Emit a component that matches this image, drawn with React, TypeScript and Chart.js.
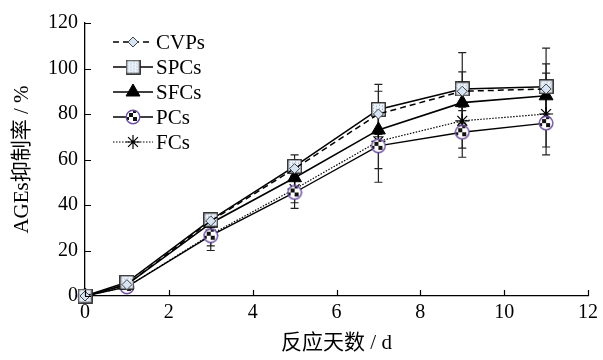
import React, { useEffect, useRef } from "react";
import { Chart, registerables } from "chart.js";
import { drawPoint } from "chart.js/helpers";

Chart.register(...registerables);

const days = [0, 1, 3, 5, 7, 9, 11];
const seriesNames = ["CVPs", "SPCs", "SFCs", "PCs", "FCs"];
const cvps = [0, 5, 33, 56, 80, 90, 91];
const cvpsErr = [0, 1, 2, 4, 10, 8.5, 11];
const spcs = [0, 6, 33.5, 57, 82, 91, 92];
const spcsErr = [0, 1.5, 2.5, 5, 11, 16, 17];
const sfcs = [0, 5, 32, 52, 73, 85, 88];
const sfcsErr = [0, 1, 2, 4, 8, 9, 10];
const pcs = [0, 4, 26.5, 45.5, 66, 72, 76];
const pcsErr = [0, 1, 6.5, 7, 16, 11, 14];
const fcs = [0, 4, 27, 47, 68, 77, 80];
const fcsErr = [0, 1, 5, 6, 12, 12, 14.5];
const xTicks = [0, 2, 4, 6, 8, 10, 12];
const yTicks = [0, 20, 40, 60, 80, 100, 120];
const xTitle = "反应天数 / d";
const yTitle = "AGEs抑制率 / %";

const FONT = "'Liberation Serif', 'Times New Roman', 'Noto Sans CJK SC', serif";

function makeSquare(): HTMLCanvasElement {
  const c = document.createElement("canvas");
  c.width = 15;
  c.height = 15;
  const g = c.getContext("2d")!;
  g.fillStyle = "#eef3f9";
  g.fillRect(1, 1, 13, 13);
  g.fillStyle = "#7f9fcc";
  for (let i = 2; i < 14; i += 3) {
    for (let j = 2 + ((i / 3) % 2); j < 14; j += 3) {
      g.fillRect(i, j, 1, 1);
    }
  }
  g.strokeStyle = "#222";
  g.lineWidth = 1.3;
  g.strokeRect(0.75, 0.75, 13.5, 13.5);
  return c;
}

function makeCircle(): HTMLCanvasElement {
  const c = document.createElement("canvas");
  c.width = 16;
  c.height = 16;
  const g = c.getContext("2d")!;
  g.beginPath();
  g.arc(8, 8, 6.8, 0, Math.PI * 2);
  g.fillStyle = "#ffffff";
  g.fill();
  g.save();
  g.clip();
  g.fillStyle = "#111";
  g.fillRect(4, 4, 4, 4);
  g.fillRect(8, 8, 4, 4);
  g.fillRect(8, 2, 3, 2);
  g.fillRect(2, 8, 2, 3);
  g.restore();
  g.beginPath();
  g.arc(8, 8, 6.8, 0, Math.PI * 2);
  g.strokeStyle = "#6b4f9e";
  g.lineWidth = 1.4;
  g.stroke();
  return c;
}

export default function App() {
  const ref = useRef<HTMLCanvasElement | null>(null);

  useEffect(() => {
    document.body.style.margin = "0";
    const canvas = ref.current;
    if (!canvas) return;
    const square = makeSquare();
    const circle = makeCircle();

    const values = [cvps, spcs, sfcs, pcs, fcs];
    const errs = [cvpsErr, spcsErr, sfcsErr, pcsErr, fcsErr];
    const styles: any[] = [
      { pointStyle: "rectRot", radius: 5, dash: [6, 4], bg: "#d6e4f4", border: "#444", lw: 1.5, pbw: 1 },
      { pointStyle: square, radius: 7, dash: [], bg: "#eef3f9", border: "#111", lw: 1.6, pbw: 1 },
      { pointStyle: "triangle", radius: 8, dash: [], bg: "#000", border: "#000", lw: 1.6, pbw: 1 },
      { pointStyle: circle, radius: 7, dash: [], bg: "#fff", border: "#6b4f9e", lw: 1.4, pbw: 1 },
      { pointStyle: "star", radius: 7, dash: [1.5, 1.5], bg: "#000", border: "#000", lw: 1.2, pbw: 1.2 },
    ];

    const datasets = seriesNames.map((name, i) => ({
      label: name,
      data: days.map((d, k) => ({ x: d, y: values[i][k] })),
      borderColor: "#000",
      borderWidth: styles[i].lw,
      borderDash: styles[i].dash,
      pointStyle: styles[i].pointStyle,
      pointRadius: styles[i].radius,
      pointBackgroundColor: styles[i].bg,
      pointBorderColor: styles[i].border,
      pointBorderWidth: styles[i].pbw,
      fill: false,
      tension: 0,
      clip: false,
    }));

    const extras = {
      id: "extras",
      beforeDatasetsDraw(chart: any) {
        const ctx = chart.ctx;
        const xs = chart.scales.x;
        const ys = chart.scales.y;
        ctx.save();
        ctx.strokeStyle = "#222";
        ctx.lineWidth = 1.2;
        ctx.setLineDash([]);
        errs.forEach((e, i) => {
          days.forEach((d, k) => {
            if (!e[k]) return;
            const px = xs.getPixelForValue(d);
            const top = ys.getPixelForValue(values[i][k] + e[k]);
            const bot = ys.getPixelForValue(values[i][k] - e[k]);
            ctx.beginPath();
            ctx.moveTo(px, top);
            ctx.lineTo(px, bot);
            ctx.moveTo(px - 4, top);
            ctx.lineTo(px + 4, top);
            ctx.moveTo(px - 4, bot);
            ctx.lineTo(px + 4, bot);
            ctx.stroke();
          });
        });
        ctx.restore();
      },
      afterDraw(chart: any) {
        const ctx = chart.ctx;
        const xs = chart.scales.x;
        const ys = chart.scales.y;
        const area = chart.chartArea;
        ctx.save();
        // inward tick marks
        ctx.strokeStyle = "#000";
        ctx.lineWidth = 1.2;
        ctx.setLineDash([]);
        ctx.beginPath();
        xTicks.forEach((t) => {
          const px = Math.round(xs.getPixelForValue(t)) + 0.5;
          ctx.moveTo(px, area.bottom);
          ctx.lineTo(px, area.bottom - 6);
        });
        yTicks.forEach((t) => {
          const py = Math.round(ys.getPixelForValue(t)) + 0.5;
          ctx.moveTo(area.left, py);
          ctx.lineTo(area.left + 6, py);
        });
        ctx.stroke();
        // titles
        ctx.fillStyle = "#000";
        ctx.font = `21px ${FONT}`;
        ctx.textAlign = "center";
        ctx.textBaseline = "middle";
        ctx.fillText(xTitle, (area.left + area.right) / 2, 343);
        ctx.save();
        ctx.translate(22, (area.top + area.bottom) / 2);
        ctx.rotate(-Math.PI / 2);
        ctx.fillText(yTitle, 0, 0);
        ctx.restore();
        // legend
        const ly = [42, 67, 92, 117, 142];
        seriesNames.forEach((name, i) => {
          const y = ly[i];
          const st = styles[i];
          ctx.strokeStyle = "#000";
          ctx.lineWidth = st.lw;
          ctx.setLineDash(st.dash);
          ctx.beginPath();
          ctx.moveTo(113, y);
          ctx.lineTo(153, y);
          ctx.stroke();
          ctx.setLineDash([]);
          ctx.fillStyle = st.bg;
          ctx.strokeStyle = st.border;
          ctx.lineWidth = st.pbw;
          drawPoint(ctx, { pointStyle: st.pointStyle, radius: st.radius, rotation: 0, borderWidth: st.pbw } as any, 133, y);
          ctx.fillStyle = "#000";
          ctx.font = `21px ${FONT}`;
          ctx.textAlign = "left";
          ctx.textBaseline = "middle";
          ctx.fillText(name, 156, y + 1);
        });
        ctx.restore();
      },
    };

    const chart = new Chart(canvas, {
      type: "line",
      data: { datasets: datasets as any },
      options: {
        animation: false,
        responsive: false,
        maintainAspectRatio: false,
        layout: { padding: { top: 23, right: 14, left: 0, bottom: 0 } },
        plugins: { legend: { display: false }, tooltip: { enabled: false } },
        scales: {
          x: {
            type: "linear",
            min: 0,
            max: 12,
            afterFit: (s: any) => {
              s.height = 64;
            },
            afterBuildTicks: (s: any) => {
              s.ticks = xTicks.map((v) => ({ value: v }));
            },
            ticks: { color: "#000", font: { family: FONT, size: 20 }, padding: 5, maxRotation: 0 },
            grid: { display: false, drawTicks: false },
            border: { display: true, color: "#000", width: 1.3 },
          },
          y: {
            type: "linear",
            min: 0,
            max: 120,
            afterFit: (s: any) => {
              s.width = 85;
            },
            afterBuildTicks: (s: any) => {
              s.ticks = yTicks.map((v) => ({ value: v }));
            },
            ticks: { color: "#000", font: { family: FONT, size: 20 }, padding: 7 },
            grid: { display: false, drawTicks: false },
            border: { display: true, color: "#000", width: 1.3 },
          },
        },
      },
      plugins: [extras],
    });
    return () => chart.destroy();
  }, []);

  return (
    <div style={{ width: 603, height: 360 }}>
      <canvas ref={ref} width={603} height={360} style={{ display: "block" }} />
    </div>
  );
}
